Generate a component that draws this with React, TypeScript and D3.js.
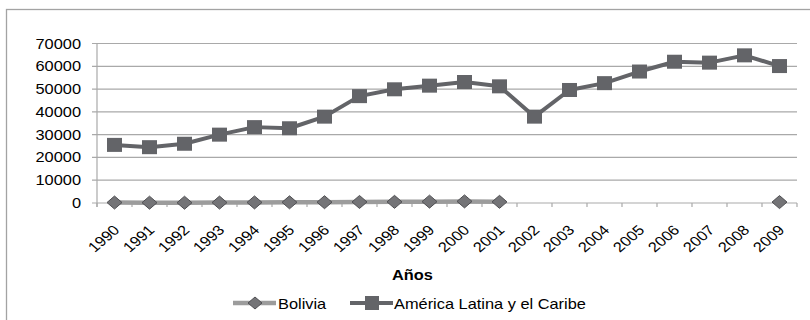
import React from "react";
import * as d3 from "d3";

const years = ["1990","1991","1992","1993","1994","1995","1996","1997","1998","1999","2000","2001","2002","2003","2004","2005","2006","2007","2008","2009"];
const alcValues = [25500,24500,26000,30000,33300,32800,37900,46900,49900,51500,53100,51200,37900,49600,52600,57700,62000,61600,64800,60100];
const boliviaValues: (number | null)[] = [200,150,120,180,250,300,350,450,500,600,700,500,null,null,null,null,null,null,null,400];
const yTicks = [0,10000,20000,30000,40000,50000,60000,70000];
const seriesNames = ["Bolivia", "América Latina y el Caribe"];
const axisTitle = "Años";

const SX = 1.17;
const FONT = "'Liberation Sans', Arial, sans-serif";

export default function App() {
  const W = 810, H = 320;
  const left = 97, right = 797, top = 43.5, bottom = 203;
  const x = d3.scaleBand().domain(years).range([left, right]);
  const y = d3.scaleLinear().domain([0, 70000]).range([bottom, top]);
  const cx = (d: string) => (x(d) as number) + x.bandwidth() / 2;

  const alcLine = d3.line<number>().x((_, i) => cx(years[i])).y((v) => y(v))(alcValues) || "";
  const bolLine = d3
    .line<number | null>()
    .defined((v) => v !== null)
    .x((_, i) => cx(years[i]))
    .y((v) => y(v as number))(boliviaValues) || "";

  const alcColor = "#636468";
  const bolLineColor = "#9c9c9c";
  const diamondFill = "#747477";
  const diamondStroke = "#505053";
  const grid = "#a9a9a9";

  const diamond = (px: number, py: number, hw = 7.5, hh = 6.5) =>
    `M${px - hw},${py}L${px},${py - hh}L${px + hw},${py}L${px},${py + hh}Z`;

  const text = (s: string, tx: number, ty: number, anchor: string, extra: any = {}) => (
    <text
      transform={`translate(${tx},${ty}) scale(${SX},1)`}
      textAnchor={anchor}
      fontFamily={FONT}
      fontSize={14}
      fill="#000"
      {...extra}
    >
      {s}
    </text>
  );

  return (
    <svg width={W} height={H} style={{ position: "absolute", left: 0, top: 0 }}>
      <rect x={0} y={0} width={W} height={H} fill="#fff" />
      <rect x={6.5} y={9.5} width={W + 20} height={H + 20} fill="none" stroke="#a3a3a3" strokeWidth={1.3} />
      {yTicks.map((t) => (
        <line key={"g" + t} x1={left - 5} x2={right} y1={y(t)} y2={y(t)} stroke={grid} strokeWidth={1.2} />
      ))}
      <line x1={left} x2={left} y1={top} y2={bottom + 4} stroke={grid} strokeWidth={1.2} />
      {years.map((d) => (
        <line key={"t" + d} x1={x(d) as number} x2={x(d) as number} y1={bottom} y2={bottom + 4} stroke={grid} strokeWidth={1.2} />
      ))}
      <line x1={right} x2={right} y1={bottom} y2={bottom + 4} stroke={grid} strokeWidth={1.2} />
      {yTicks.map((t) => text(String(t), 81, y(t) + 5, "end", { key: "yl" + t }))}
      {years.map((d) => (
        <text
          key={"xl" + d}
          transform={`translate(${cx(d) + 6},${231}) scale(${SX},1) rotate(-45)`}
          textAnchor="end"
          fontFamily={FONT}
          fontSize={14}
        >
          {d}
        </text>
      ))}
      <path d={bolLine} fill="none" stroke={bolLineColor} strokeWidth={4.5} />
      {boliviaValues.map((v, i) =>
        v === null ? null : (
          <path key={"bd" + i} d={diamond(cx(years[i]), y(v))} fill={diamondFill} stroke={diamondStroke} strokeWidth={1} />
        )
      )}
      <path d={alcLine} fill="none" stroke={alcColor} strokeWidth={4} strokeLinejoin="round" />
      {alcValues.map((v, i) => (
        <rect key={"sq" + i} x={cx(years[i]) - 7.5} y={y(v) - 7} width={15} height={14} fill={alcColor} />
      ))}
      {text(axisTitle, 392, 280, "start", { fontWeight: "bold" })}
      <line x1={233} x2={276} y1={303} y2={303} stroke={bolLineColor} strokeWidth={4.5} />
      <path d={diamond(255, 303, 7, 6)} fill={diamondFill} stroke={diamondStroke} strokeWidth={1} />
      {text(seriesNames[0], 278, 308.5, "start")}
      <line x1={350} x2={393} y1={303} y2={303} stroke={alcColor} strokeWidth={4} />
      <rect x={365} y={296} width={14} height={14} fill={alcColor} />
      {text(seriesNames[1], 394, 308.5, "start")}
    </svg>
  );
}
